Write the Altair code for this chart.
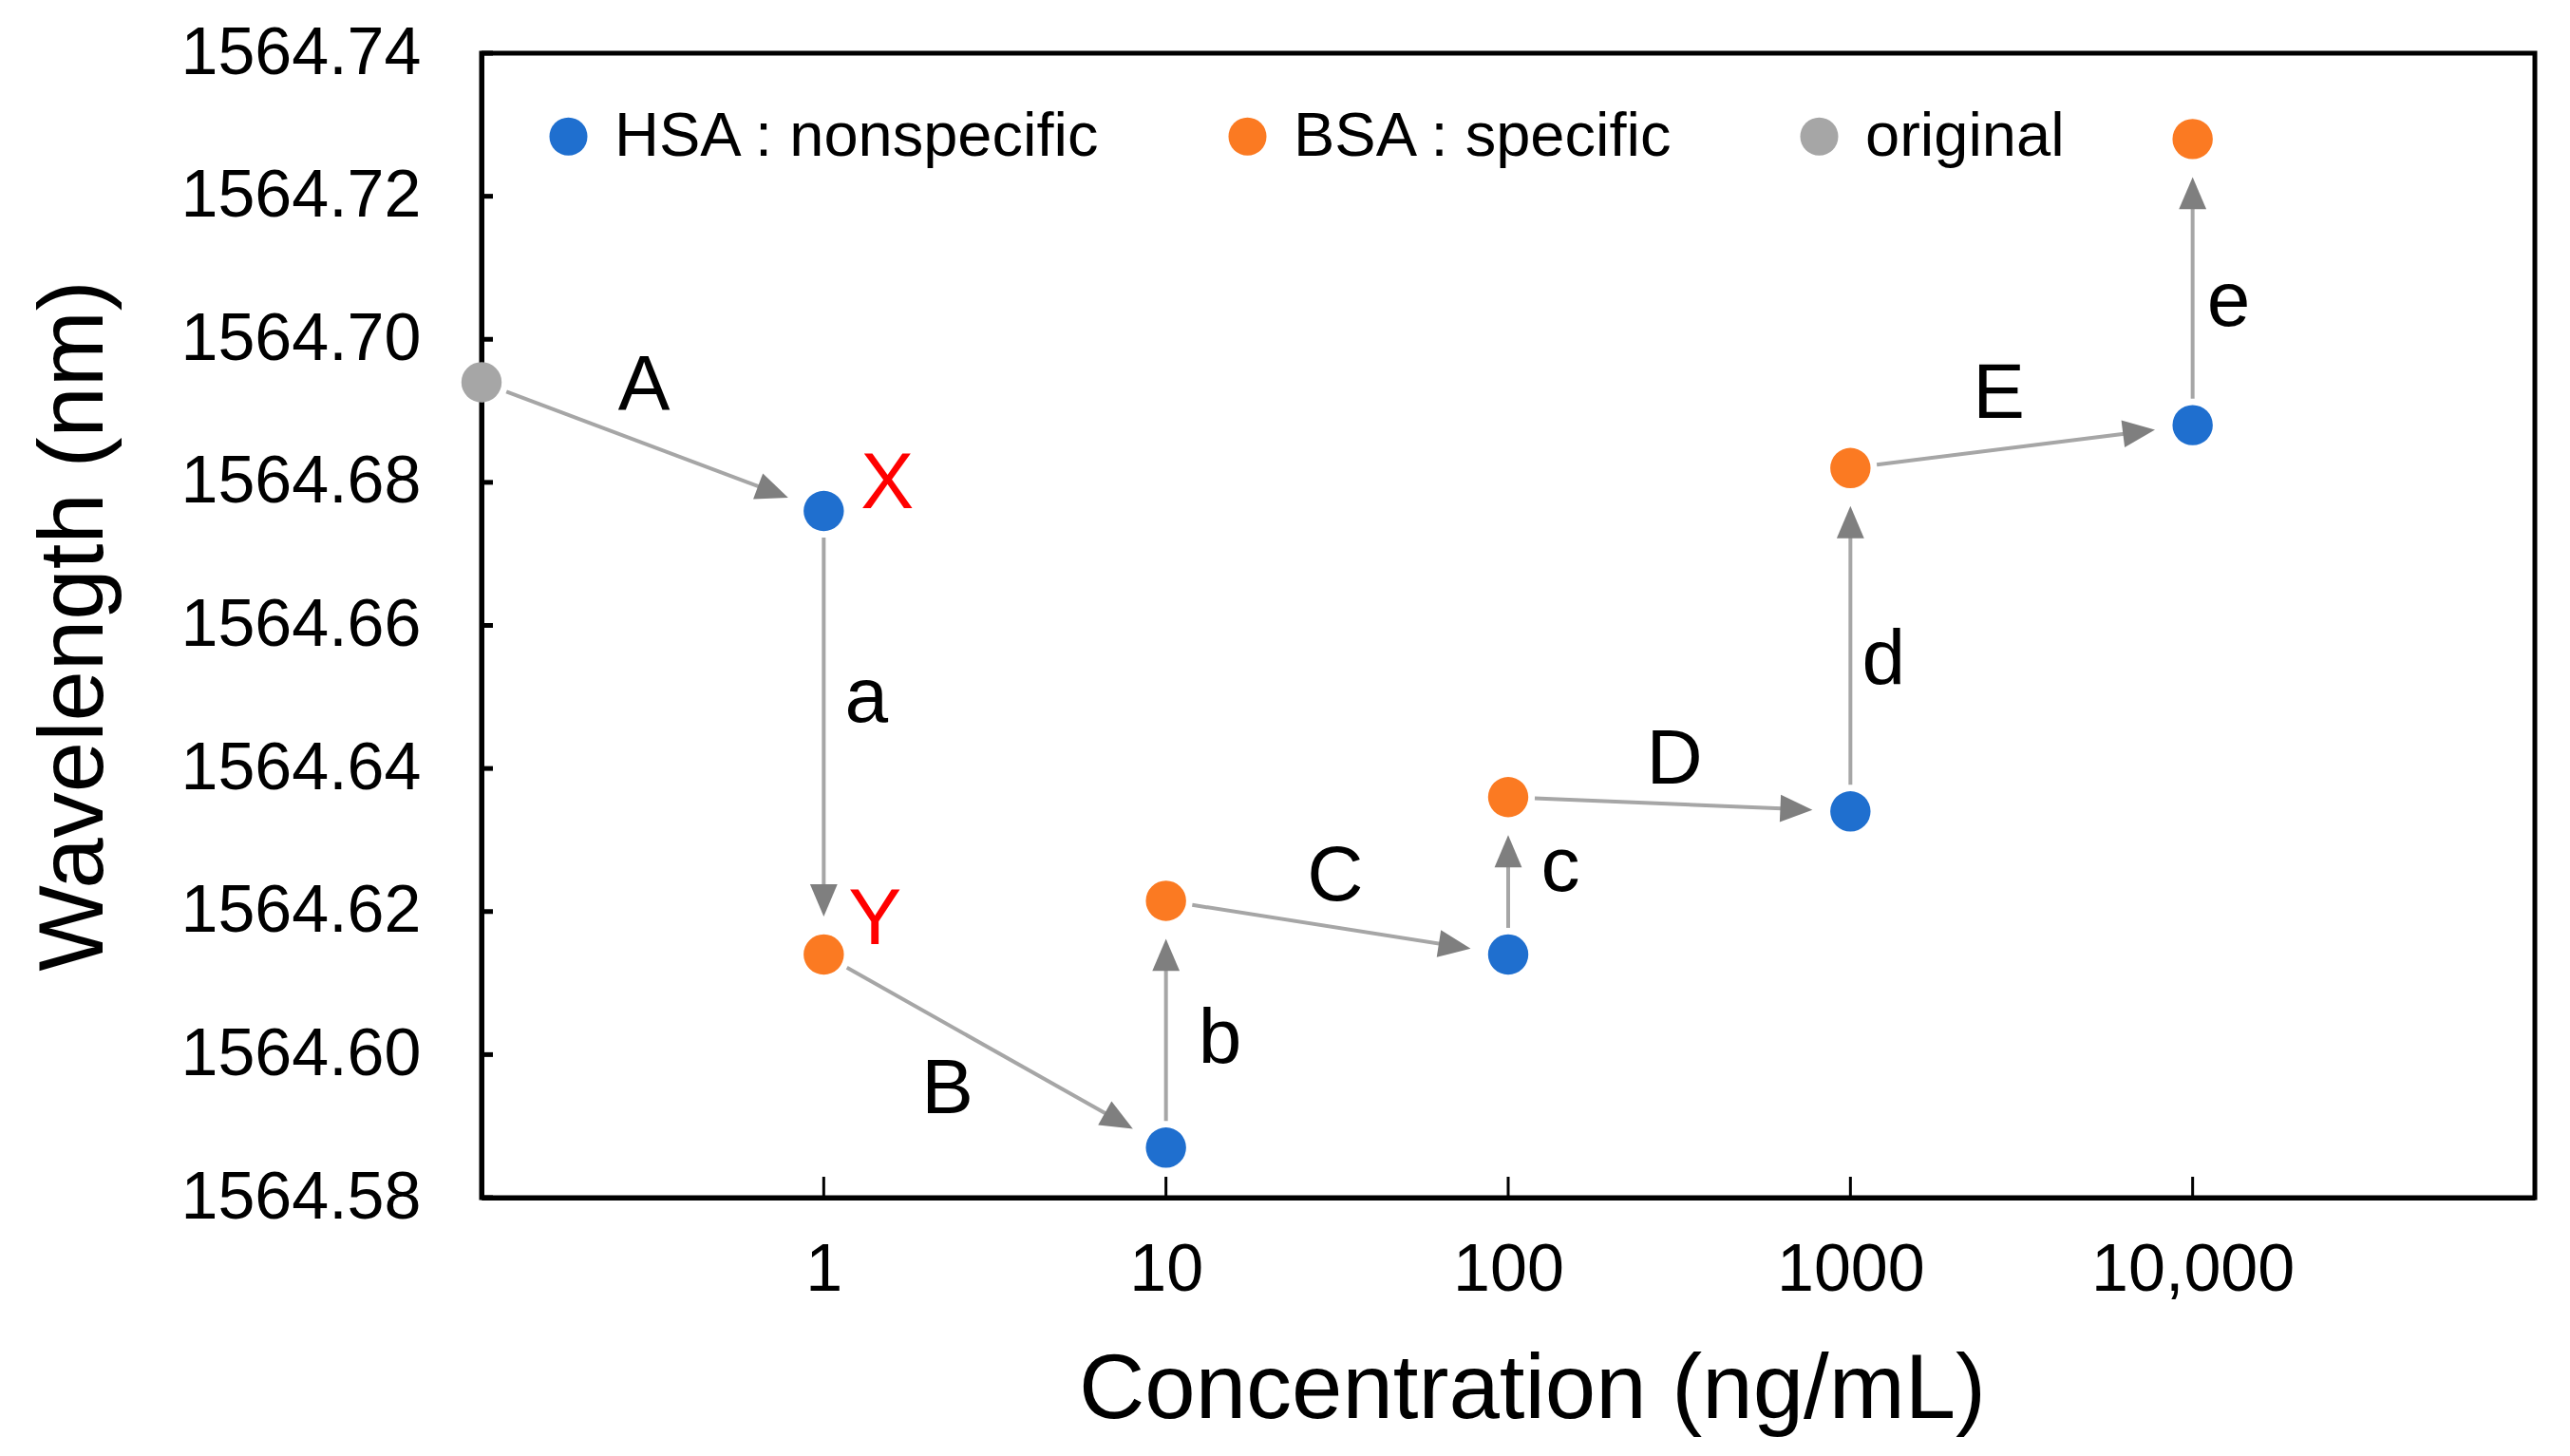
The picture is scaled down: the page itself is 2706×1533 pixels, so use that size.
import math
import altair as alt
import pandas as pd

# ---------------- data ----------------
conc_levels = [1, 10, 100, 1000, 10000]
hsa_wavelength = [1564.676, 1564.587, 1564.614, 1564.634, 1564.688]
bsa_wavelength = [1564.614, 1564.6215, 1564.636, 1564.682, 1564.728]
original_conc = 0.1
original_wavelength = 1564.694

series_names = ["HSA : nonspecific", "BSA : specific", "original"]
series_colors = ["#1f6fcf", "#fb7a22", "#a6a6a6"]

step_labels = ["A", "a", "B", "b", "C", "c", "D", "d", "E", "e"]
point_labels = ["X", "Y"]

x_tick_values = [1, 10, 100, 1000, 10000]
x_tick_labels = ["1", "10", "100", "1000", "10,000"]
y_tick_values = [1564.58, 1564.60, 1564.62, 1564.64, 1564.66, 1564.68, 1564.70, 1564.72, 1564.74]

# ---------------- layout / style ----------------
W, H = 2162, 1205
XMIN, XMAX = 0.1, 100000
YMIN, YMAX = 1564.58, 1564.74
FONT = "Liberation Sans"

# pixel offsets of the step letters from the arrow midpoints
step_offsets = [(-9, -64), (45, -36), (-50, 40), (57, 16), (-2, -54),
                (55, -9), (-5, -47), (35, 21), (-24, -55), (38, 21)]
# pixel offsets of X / Y from HSA@1 and BSA@1
point_offsets = [(67, -28), (54, -36)]

START_GAP = 28
TIP_GAP = 40
HEAD_LEN = 34

LX0, LX1 = math.log10(XMIN), math.log10(XMAX)


def xpx(c):
    return (math.log10(c) - LX0) / (LX1 - LX0) * W


def ypx(v):
    return (YMAX - v) / (YMAX - YMIN) * H


def xdata(px):
    return 10 ** (LX0 + px / W * (LX1 - LX0))


def ydata(py):
    return YMAX - py / H * (YMAX - YMIN)


# ---------------- tables ----------------
pts = [{"c": original_conc, "w": original_wavelength, "series": series_names[2]}]
for c, h, b in zip(conc_levels, hsa_wavelength, bsa_wavelength):
    pts.append({"c": c, "w": h, "series": series_names[0]})
    pts.append({"c": c, "w": b, "series": series_names[1]})
points_df = pd.DataFrame(pts)

arrows, letters = [], []
for i in range(len(pts) - 1):
    s, t = pts[i], pts[i + 1]
    sx, sy = xpx(s["c"]), ypx(s["w"])
    tx, ty = xpx(t["c"]), ypx(t["w"])
    dx, dy = tx - sx, ty - sy
    L = math.hypot(dx, dy)
    ux, uy = dx / L, dy / L
    x0, y0 = sx + ux * START_GAP, sy + uy * START_GAP
    tipx, tipy = tx - ux * TIP_GAP, ty - uy * TIP_GAP
    x1, y1 = tipx - ux * HEAD_LEN * 0.6, tipy - uy * HEAD_LEN * 0.6
    ang = math.degrees(math.atan2(ux, -uy)) % 360
    arrows.append({
        "c": xdata(x0), "w": ydata(y0), "c2": xdata(x1), "w2": ydata(y1),
        "tc": xdata(tipx), "tw": ydata(tipy), "angle": ang,
    })
    mx, my = (sx + tx) / 2, (sy + ty) / 2
    ox, oy = step_offsets[i]
    letters.append({"c": xdata(mx + ox), "w": ydata(my + oy), "t": step_labels[i]})
arrows_df = pd.DataFrame(arrows)
letters_df = pd.DataFrame(letters)

xy_rows = []
for lab, (c, w), (ox, oy) in zip(point_labels,
                                  [(conc_levels[0], hsa_wavelength[0]), (conc_levels[0], bsa_wavelength[0])],
                                  point_offsets):
    xy_rows.append({"c": xdata(xpx(c) + ox), "w": ydata(ypx(w) + oy), "t": lab})
xy_df = pd.DataFrame(xy_rows)

ytick_df = pd.DataFrame({"w": y_tick_values})
xtick_df = pd.DataFrame({"c": x_tick_values})

# ---------------- scales / axes ----------------
xscale = alt.Scale(type="log", domain=[XMIN, XMAX], nice=False)
yscale = alt.Scale(domain=[YMIN, YMAX], nice=False, zero=False)

label_expr = "''"
for v, l in reversed(list(zip(x_tick_values, x_tick_labels))):
    label_expr = f"datum.value == {v} ? '{l}' : ({label_expr})"

x_axis = alt.Axis(
    values=x_tick_values, labelExpr=label_expr, grid=False, ticks=False, tickSize=0,
    domain=True, domainColor="black", domainWidth=5, maxExtent=2000,
    labelFont=FONT, labelFontSize=70, labelColor="black", labelPadding=42, labelLimit=2000,
    title="Concentration (ng/mL)", titleFont=FONT, titleFontSize=96,
    titleFontWeight="normal", titleColor="black", titlePadding=44, titleX=1106,
)
y_axis = alt.Axis(
    values=y_tick_values, format=".2f", grid=False, ticks=False, tickSize=0,
    domain=True, domainColor="black", domainWidth=5, maxExtent=2000,
    labelFont=FONT, labelFontSize=70, labelColor="black", labelPadding=64, labelLimit=2000,
    title="Wavelength (nm)", titleFont=FONT, titleFontSize=96,
    titleFontWeight="normal", titleColor="black", titlePadding=62,
)


def X(field):
    return alt.X(field, scale=xscale, axis=x_axis, title="Concentration (ng/mL)")


def Y(field):
    return alt.Y(field, scale=yscale, axis=y_axis, title="Wavelength (nm)")


# ---------------- layers ----------------
ytick_layer = alt.Chart(ytick_df).mark_rule(color="black", strokeWidth=5).encode(
    y=Y("w:Q"), x=alt.value(0), x2=alt.value(12),
)
xtick_layer = alt.Chart(xtick_df).mark_rule(color="black", strokeWidth=3).encode(
    x=X("c:Q"), y=alt.value(H), y2=alt.value(H - 22),
)

lines = alt.Chart(arrows_df).mark_rule(color="#a6a6a6", strokeWidth=4).encode(
    x=X("c:Q"), y=Y("w:Q"), x2="c2:Q", y2="w2:Q",
)
heads = alt.Chart(arrows_df).mark_point(
    shape="M0,0L0.85,2L-0.85,2Z", filled=True, fill="#7f7f7f",
    strokeWidth=0, size=1150, opacity=1,
).encode(
    x=X("tc:Q"), y=Y("tw:Q"),
    angle=alt.Angle("angle:Q", scale=None),
)

dots = alt.Chart(points_df).mark_circle(size=1800, opacity=1).encode(
    x=X("c:Q"), y=Y("w:Q"),
    color=alt.Color(
        "series:N",
        scale=alt.Scale(domain=series_names, range=series_colors),
        legend=alt.Legend(
            orient="none", legendX=59, legendY=55, direction="horizontal", title=None,
            labelFont=FONT, labelFontSize=65, labelColor="black", labelOffset=16,
            labelLimit=2000,
            symbolType="circle", symbolSize=1600, symbolStrokeWidth=0, symbolOpacity=1,
            columnPadding=120, padding=0,
        ),
    ),
)

letter_layer = alt.Chart(letters_df).mark_text(
    font=FONT, fontSize=82, color="black", align="center", baseline="middle",
).encode(x=X("c:Q"), y=Y("w:Q"), text="t:N")

xy_layer = alt.Chart(xy_df).mark_text(
    font=FONT, fontSize=84, color="#ff0000", align="center", baseline="middle",
).encode(x=X("c:Q"), y=Y("w:Q"), text="t:N")

chart = alt.layer(
    ytick_layer, xtick_layer, lines, heads, dots, letter_layer, xy_layer
).properties(
    width=W, height=H,
    padding={"left": 22, "top": 13, "right": 5, "bottom": 5},
    background="white",
).configure_view(stroke="black", strokeWidth=5)

chart.save("out.html", embed_options={"renderer": "svg", "actions": False})
